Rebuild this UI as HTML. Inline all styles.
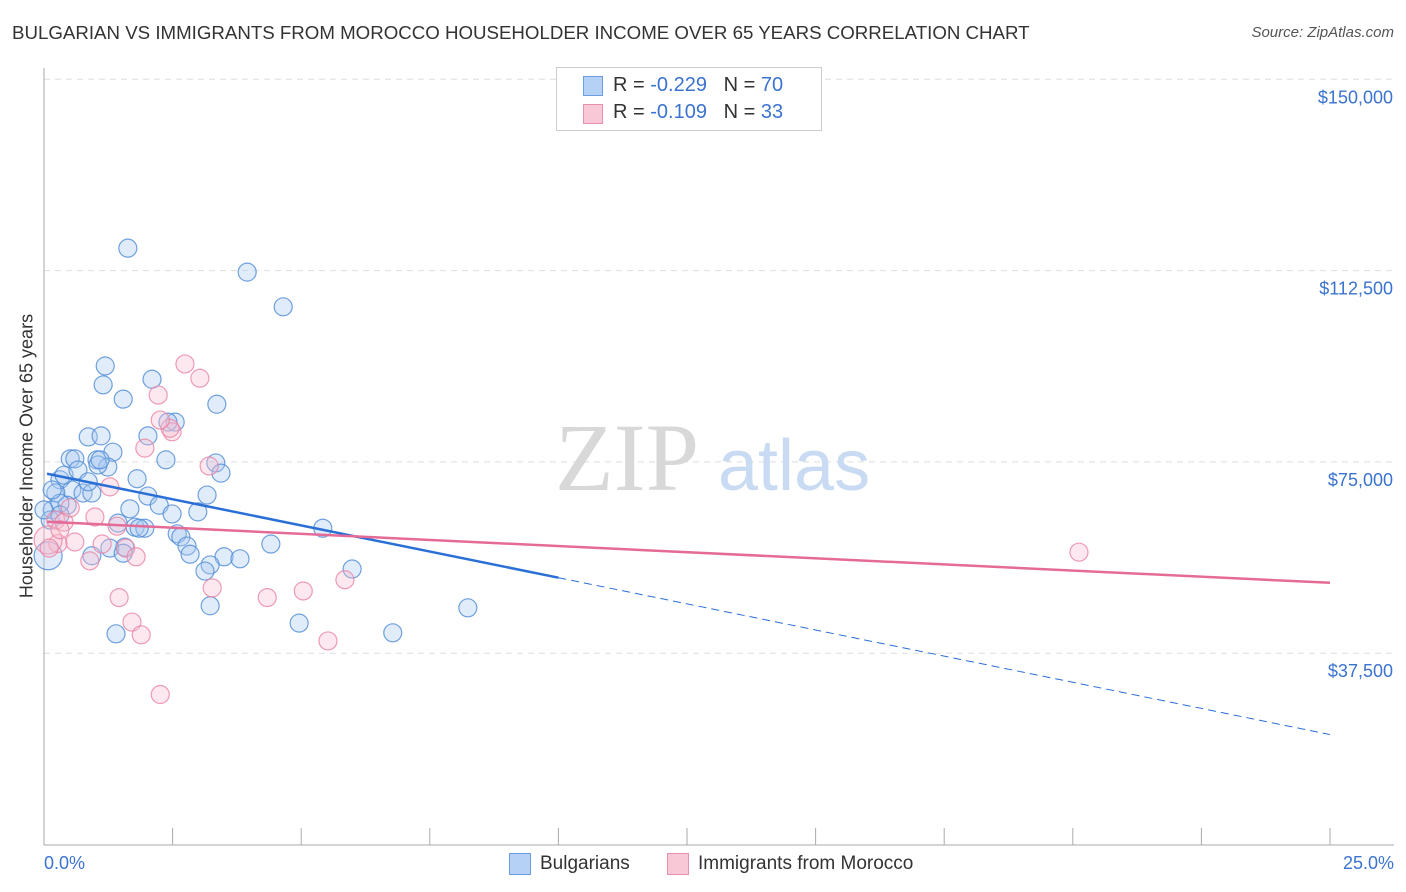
<!DOCTYPE html>
<html><head><meta charset="utf-8"><style>
body{margin:0;background:#fff;font-family:"Liberation Sans",sans-serif;}
#wrap{position:relative;width:1406px;height:892px;overflow:hidden;}
.t{position:absolute;white-space:nowrap;}
</style></head><body>
<div id="wrap">
<div class="t" style="left:12px;top:22px;font-size:18.7px;color:#333;">BULGARIAN VS IMMIGRANTS FROM MOROCCO HOUSEHOLDER INCOME OVER 65 YEARS CORRELATION CHART</div>
<div class="t" style="right:12px;top:24px;font-size:15px;color:#555;font-style:italic;">Source: ZipAtlas.com</div>
<svg id="svg" width="1406" height="892" style="position:absolute;left:0;top:0"></svg>
</div>
<script>
const blueX=[1.63,3.95,4.65,1.19,1.15,1.54,2.10,3.36,2.55,2.41,2.02,0.86,1.11,1.34,1.03,0.51,0.60,1.24,2.37,3.34,3.44,0.31,1.81,0.54,0.23,0.76,0.93,2.02,3.17,0.16,0.45,2.24,1.67,2.49,2.99,1.44,1.77,1.96,1.85,2.59,2.66,5.42,2.78,4.41,1.57,1.28,0.93,1.54,2.84,3.50,3.81,3.23,3.13,5.99,3.23,8.24,4.96,6.78,1.40,0.08,0.12,0.31,0.39,0.66,0.0,0.16,0.86,1.05,0.31,1.09];
const blueY=[116.9,112.2,105.4,93.8,90.1,87.3,91.2,86.3,82.8,82.8,80.1,79.9,80.1,76.9,75.4,75.6,75.6,74.0,75.4,74.8,72.8,71.5,71.7,69.5,68.9,68.9,68.9,68.3,68.5,65.6,66.5,66.5,65.8,64.8,65.2,63.0,62.2,62.0,62.0,60.9,60.3,62.0,58.5,58.9,58.3,58.1,56.6,57.1,56.9,56.4,56.0,54.8,53.6,54.0,46.8,46.4,43.4,41.5,41.3,56.6,63.6,66.9,72.4,73.4,65.6,69.5,71.1,74.4,64.6,75.4];
const pinkX=[2.74,3.03,2.22,2.49,2.45,1.96,3.21,1.28,0.23,0.39,0.99,0.51,1.42,0.27,0.08,0.60,1.13,1.59,1.79,0.89,1.46,3.27,4.34,5.04,5.85,1.71,1.89,5.52,2.26,20.12,0.10,0.31,2.26];
const pinkY=[94.2,91.4,88.1,80.9,81.6,77.7,74.2,70.1,63.6,63.2,64.2,66.0,62.4,59.0,59.7,59.3,58.9,58.1,56.4,55.6,48.4,50.3,48.4,49.7,51.9,43.6,41.1,39.9,29.4,57.3,58.1,61.7,83.2];
const blueTrend=[72.8,-2.05]; // intercept ($k), slope per %
const pinkTrend=[63.3,-0.48];
const yTicks=[37.5,75,112.5,150];
const yTickLabels=["$37,500","$75,000","$112,500","$150,000"];
const xTicks=[0,2.5,5,7.5,10,12.5,15,17.5,20,22.5,25];
const svg=document.getElementById('svg');const NS='http://www.w3.org/2000/svg';
const X=v=>44+v/25*1286, Y=v=>844.5-v/37.5*191.3;
function mk(t,a,p){const e=document.createElementNS(NS,t);for(const k in a)e.setAttribute(k,a[k]);(p||svg).appendChild(e);return e;}
yTicks.forEach((v,i)=>{const l=mk('line',{x1:44,x2:1394,y1:Y(v),y2:Y(v),stroke:'#ddd','stroke-dasharray':'6,5'});

const t=mk('text',{x:1393,y:Y(v)+24,'text-anchor':'end','font-size':18,fill:'#3b73d0','font-family':'Liberation Sans'});t.textContent=yTickLabels[i];
});
let ax=mk('line',{x1:44,x2:44,y1:68,y2:845,stroke:'#aaa'});
ax=mk('line',{x1:44,x2:1394,y1:845,y2:845,stroke:'#aaa'});
xTicks.forEach(v=>{const l=mk('line',{x1:X(v),x2:X(v),y1:828,y2:845,stroke:'#aaa'});});
const wm=mk('text',{x:555,y:490,'font-size':96,fill:'#d8d8d8','font-family':'Liberation Serif'});wm.textContent='ZIP';
const wm2=mk('text',{x:718,y:490,'font-size':72,fill:'#c9dbf2','font-family':'Liberation Sans'});wm2.textContent='atlas';
function pts(xs,ys,fill,stroke,name,bigIdx){xs.forEach((x,i)=>{const big=i===bigIdx;const c=mk('circle',{cx:X(x),cy:Y(ys[i]),r:big?14:9,fill:fill,'fill-opacity':0.35,stroke:stroke,'stroke-width':1.2,'stroke-opacity':0.8});
});}
pts(blueX,blueY,'#a9c8f0','#4f8bd6','bulgarian-point',59);
pts(pinkX,pinkY,'#f6bccd','#e883a5','morocco-point',14);
let ln=mk('line',{x1:X(0.06),y1:Y(blueTrend[0]+blueTrend[1]*0.06),x2:X(10),y2:Y(blueTrend[0]+blueTrend[1]*10),stroke:'#2a6fd6','stroke-width':2.5});
ln=mk('line',{x1:X(10),y1:Y(blueTrend[0]+blueTrend[1]*10),x2:X(25),y2:Y(blueTrend[0]+blueTrend[1]*25),stroke:'#2a6fd6','stroke-width':1,'stroke-dasharray':'8,5'});
ln=mk('line',{x1:X(0.06),y1:Y(pinkTrend[0]+pinkTrend[1]*0.06),x2:X(25),y2:Y(pinkTrend[0]+pinkTrend[1]*25),stroke:'#e56b97','stroke-width':2.5});
</script>
<div class="t" style="left:27px;top:456px;font-size:18px;color:#333;transform:translate(-50%,-50%) rotate(-90deg);">Householder Income Over 65 years</div>
<div class="t" style="left:44px;top:853px;font-size:18px;color:#3b73d0;">0.0%</div>
<div class="t" style="right:12px;top:853px;font-size:18px;color:#3b73d0;">25.0%</div>
<div style="position:absolute;left:556px;top:67px;width:264px;height:62px;border:1px solid #ccc;background:#fff;font-size:20px;color:#333;">
 <div style="position:absolute;left:26px;top:8px;width:18px;height:18px;background:#b5d1f5;border:1px solid #6b9de0;"></div>
 <div class="t" style="left:56px;top:6px;">R = <span style="color:#3b73d0">-0.229</span>&nbsp;&nbsp;&nbsp;N = <span style="color:#3b73d0">70</span></div>
 <div style="position:absolute;left:26px;top:36px;width:18px;height:18px;background:#f8c8d6;border:1px solid #e890ae;"></div>
 <div class="t" style="left:56px;top:33px;">R = <span style="color:#3b73d0">-0.109</span>&nbsp;&nbsp;&nbsp;N = <span style="color:#3b73d0">33</span></div>
</div>
<div style="position:absolute;left:509px;top:853px;width:20px;height:20px;background:#b5d1f5;border:1px solid #6b9de0;"></div>
<div class="t" style="left:540px;top:853px;font-size:19px;color:#333;">Bulgarians</div>
<div style="position:absolute;left:667px;top:853px;width:20px;height:20px;background:#f8c8d6;border:1px solid #e890ae;"></div>
<div class="t" style="left:698px;top:853px;font-size:19px;color:#333;">Immigrants from Morocco</div>
</body></html>
